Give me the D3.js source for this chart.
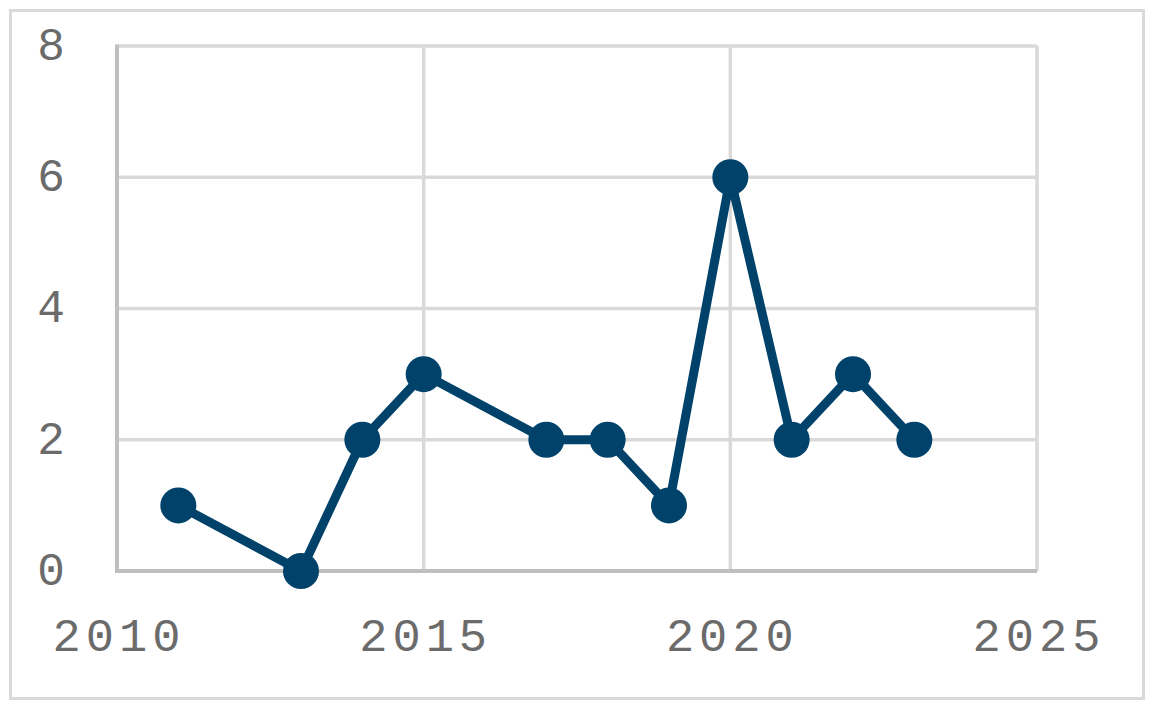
<!DOCTYPE html>
<html><head><meta charset="utf-8">
<script src="https://cdn.jsdelivr.net/npm/d3@7"></script>
<style>body{margin:0;background:#fff}svg{display:block}</style>
</head><body>
<script>
const years = [2011, 2013, 2014, 2015, 2017, 2018, 2019, 2020, 2021, 2022, 2023];
const values = [1, 0, 2, 3, 2, 2, 1, 6, 2, 3, 2];
const xTicks = [2010, 2015, 2020, 2025];
const yTicks = [0, 2, 4, 6, 8];

const W = 1154, H = 709;
const svg = d3.select("body").append("svg").attr("width", W).attr("height", H);
svg.append("rect").attr("x", 10.5).attr("y", 10.5).attr("width", 1133).attr("height", 688)
  .attr("fill", "#fff").attr("stroke", "#d9d9d9").attr("stroke-width", 3);

const x = d3.scaleLinear().domain([2010, 2025]).range([117, 1037]);
const y = d3.scaleLinear().domain([0, 8]).range([571, 46]);

const g = svg.append("g");
g.selectAll(".hg").data(yTicks.filter(d => d > 0)).join("line")
  .attr("x1", x(2010)).attr("x2", x(2025)).attr("y1", d => y(d)).attr("y2", d => y(d))
  .attr("stroke", "#d9d9d9").attr("stroke-width", 3.5);
g.selectAll(".vg").data(xTicks.filter(d => d > 2010)).join("line")
  .attr("x1", d => x(d)).attr("x2", d => x(d)).attr("y1", y(0)).attr("y2", y(8))
  .attr("stroke", "#d9d9d9").attr("stroke-width", 3.5);
g.append("line").attr("x1", x(2010)).attr("x2", x(2025)).attr("y1", y(0)).attr("y2", y(0))
  .attr("stroke", "#bfbfbf").attr("stroke-width", 4);
g.append("line").attr("x1", x(2010)).attr("x2", x(2010)).attr("y1", y(0)+2).attr("y2", y(8)-1.5)
  .attr("stroke", "#bfbfbf").attr("stroke-width", 4);

const font = "'Liberation Mono', 'Courier New', monospace";
svg.selectAll(".yl").data(yTicks).join("text")
  .attr("x", 51).attr("y", d => y(d)).attr("dy", "0.3em")
  .attr("text-anchor", "middle").attr("font-family", font).attr("font-size", 46)
  .attr("fill", "#6b6b6b")
  .text(d => d);
svg.selectAll(".xl").data(xTicks).join("text")
  .attr("x", d => x(d) + 2).attr("y", 651)
  .attr("text-anchor", "middle").attr("font-family", font).attr("font-size", 47)
  .attr("letter-spacing", 5)
  .attr("fill", "#6b6b6b")
  .text(d => d);

const data = years.map((yr, i) => ({yr, v: values[i]}));
svg.append("path").datum(data)
  .attr("d", d3.line().x(d => x(d.yr)).y(d => y(d.v)))
  .attr("fill", "none").attr("stroke", "#00426a").attr("stroke-width", 9).attr("stroke-linejoin", "round");
svg.selectAll(".pt").data(data).join("circle")
  .attr("cx", d => x(d.yr)).attr("cy", d => y(d.v)).attr("r", 18)
  .attr("fill", "#00426a");
</script>
</body></html>
